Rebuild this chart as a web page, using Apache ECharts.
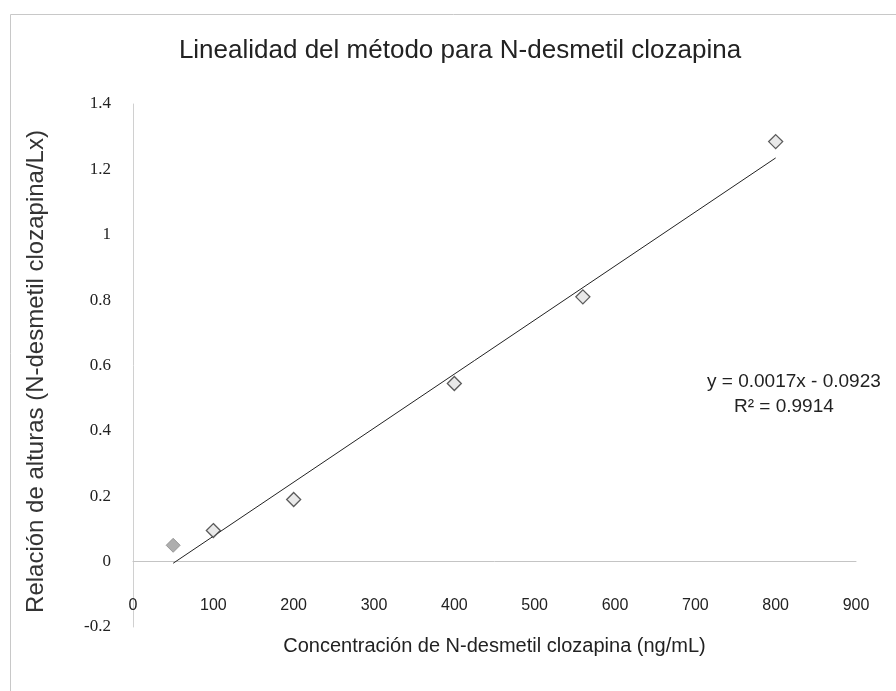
<!DOCTYPE html>
<html>
<head>
<meta charset="utf-8">
<script src="https://cdn.jsdelivr.net/npm/echarts@6/dist/echarts.min.js"></script>
<style>
html,body{margin:0;padding:0;background:#fff;}
#chart{width:896px;height:691px;}
</style>
</head>
<body>
<div id="chart"></div>
<script>
// Data
const concentrations = [50, 100, 200, 400, 560, 800];
const heightRatios = [0.05, 0.095, 0.19, 0.545, 0.81, 1.285];
// Trendline endpoints (as drawn in the reference)
const trendX = [50, 800];
const trendY = [-0.005, 1.235];
const xTicks = [0, 100, 200, 300, 400, 500, 600, 700, 800, 900];
const yTicks = [-0.2, 0, 0.2, 0.4, 0.6, 0.8, 1, 1.2, 1.4];
const titleText = 'Linealidad del método para N-desmetil clozapina';
const xName = 'Concentración de N-desmetil clozapina (ng/mL)';
const yName = 'Relación de alturas (N-desmetil clozapina/Lx)';
const eqLine1 = 'y = 0.0017x - 0.0923';
const eqLine2 = 'R² = 0.9914';

const chart = echarts.init(document.getElementById('chart'), null, {renderer: 'canvas'});
const sans = '"Liberation Sans", Arial, sans-serif';

const scatterData = concentrations.map((x, i) => {
  const d = {value: [x, heightRatios[i]]};
  if (i === 0) d.itemStyle = {color: '#9a9a9a', borderColor: '#8a8a8a', borderWidth: 1};
  return d;
});
const trendData = trendX.map((x, i) => [x, trendY[i]]);

chart.setOption({
  animation: false,
  backgroundColor: '#fff',
  title: {
    text: titleText,
    left: 455, top: 33, textAlign: 'center',
    textStyle: {fontFamily: sans, fontSize: 26, fontWeight: 'normal', color: '#222'}
  },
  grid: {left: 133, right: 40, top: 104, bottom: 64, containLabel: false, outerBoundsMode: 'none'},
  xAxis: {
    type: 'value', min: 0, max: 900, interval: 100,
    name: xName, nameLocation: 'middle', nameGap: 9,
    nameTextStyle: {fontFamily: sans, fontSize: 20, color: '#222'},
    axisLine: {show: true, onZero: true, lineStyle: {color: '#c4c4c4', width: 1}},
    axisTick: {show: false},
    axisLabel: {margin: -29, fontFamily: sans, fontSize: 16, color: '#222',
      formatter: v => xTicks.includes(v) ? String(v) : ''},
    splitLine: {show: false}
  },
  yAxis: {
    type: 'value', min: -0.2, max: 1.4, interval: 0.2,
    name: yName, nameLocation: 'middle', nameGap: 85, nameRotate: 90,
    nameTextStyle: {fontFamily: sans, fontSize: 24, color: '#333', padding: [0, 12, 0, 0]},
    axisLine: {show: true, lineStyle: {color: '#d0d0d0', width: 1}},
    axisTick: {show: false},
    axisLabel: {margin: 22, fontFamily: '"Liberation Serif", serif', fontSize: 17, color: '#222',
      formatter: v => {
        const r = Math.round(v * 10) / 10;
        return yTicks.some(t => Math.abs(t - r) < 1e-9) ? String(r) : '';
      }},
    splitLine: {show: false}
  },
  series: [
    {
      type: 'line', data: trendData, symbol: 'none', silent: true,
      lineStyle: {color: '#222', width: 1}, z: 2
    },
    {
      type: 'scatter', data: scatterData, symbol: 'diamond', symbolSize: 14,
      itemStyle: {color: '#e4e4e4', borderColor: '#333', borderWidth: 1.3}, z: 3
    }
  ],
  graphic: [
    {type: 'rect', left: 8, top: 12, shape: {width: 886, height: 678},
      style: {fill: 'none', stroke: '#c8c8c8', lineWidth: 1}, silent: true},
    {type: 'text', left: 707, top: 372,
      style: {text: eqLine1, fontFamily: sans, fontSize: 19, fill: '#222'}},
    {type: 'text', left: 734, top: 397,
      style: {text: eqLine2, fontFamily: sans, fontSize: 19, fill: '#222'}}
  ]
});
</script>
</body>
</html>
